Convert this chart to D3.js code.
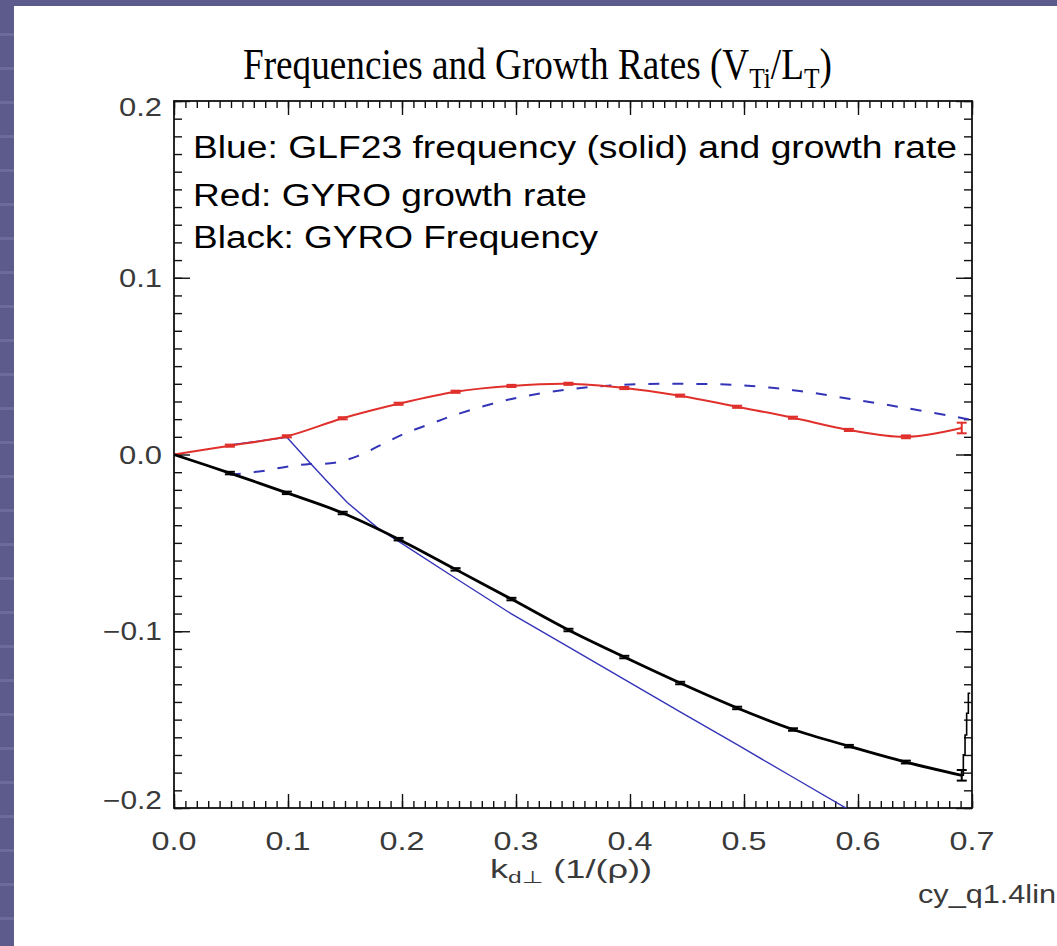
<!DOCTYPE html>
<html>
<head>
<meta charset="utf-8">
<script src="https://cdn.jsdelivr.net/npm/d3@7"></script>
<style>
  html, body { margin: 0; padding: 0; background: #fff; }
  svg { display: block; }
</style>
</head>
<body>
<script>
// ---- data -------------------------------------------------------------
// wavenumber grid of the GYRO runs
const gyroK = [0, 0.049, 0.099, 0.148, 0.197, 0.247, 0.296, 0.346, 0.395, 0.444, 0.494, 0.543, 0.592, 0.642, 0.691];
// GYRO growth rate (red) and its error bars
const gyroGrowth = [0, 0.0050, 0.0103, 0.0205, 0.0287, 0.0355, 0.0388, 0.0400, 0.0376, 0.0333, 0.0270, 0.0208, 0.0139, 0.0100, 0.0150];
const gyroGrowthErr = [0, 0.0006, 0.0006, 0.0006, 0.0006, 0.0006, 0.0006, 0.0006, 0.0006, 0.0006, 0.0006, 0.0006, 0.0006, 0.0008, 0.0030];
// GYRO frequency (black) and its error bars
const gyroFreq = [0, -0.0105, -0.0217, -0.0331, -0.0479, -0.0650, -0.0818, -0.0993, -0.1146, -0.1293, -0.1434, -0.1556, -0.1650, -0.1740, -0.1815];
const gyroFreqErr = [0, 0.0007, 0.0007, 0.0007, 0.0007, 0.0007, 0.0007, 0.0007, 0.0007, 0.0007, 0.0007, 0.0007, 0.0007, 0.0008, 0.0030];
// staircase at the right end of the GYRO frequency trace
const gyroTailK = [0.691, 0.6924, 0.6939, 0.6953, 0.6968, 0.6985];
const gyroTailV = [-0.1815, -0.1699, -0.1587, -0.1464, -0.1351, -0.1351];
// GLF23 frequency (blue solid)
const glfFreqK = [0.049, 0.099, 0.119, 0.134, 0.152, 0.178, 0.197, 0.247, 0.296, 0.346, 0.395, 0.444, 0.494, 0.543, 0.592, 0.642];
const glfFreqV = [0.0054, 0.0097, -0.0045, -0.0150, -0.0272, -0.0412, -0.0492, -0.0700, -0.0902, -0.1088, -0.1272, -0.1456, -0.1642, -0.1826, -0.2010, -0.2195];
// GLF23 growth rate (blue dashed)
const glfGrowthK = [0.049, 0.078, 0.099, 0.119, 0.141, 0.161, 0.183, 0.204, 0.225, 0.247, 0.296, 0.346, 0.395, 0.444, 0.494, 0.543, 0.592, 0.642, 0.691, 0.700];
const glfGrowthV = [-0.0115, -0.0093, -0.0069, -0.0054, -0.0047, -0.0009, 0.0059, 0.0123, 0.0173, 0.0225, 0.0314, 0.0368, 0.0395, 0.0400, 0.0393, 0.0364, 0.0316, 0.0263, 0.0207, 0.0195];
// axis ticks and labels
const xMajor = [0, 0.1, 0.2, 0.3, 0.4, 0.5, 0.6, 0.7];
const xLabels = ["0.0", "0.1", "0.2", "0.3", "0.4", "0.5", "0.6", "0.7"];
const yMajor = [-0.2, -0.1, 0, 0.1, 0.2];
const yLabels = ["\u22120.2", "\u22120.1", "0.0", "0.1", "0.2"];
const legendLines = [
  "Blue: GLF23 frequency (solid) and growth rate",
  "Red: GYRO growth rate",
  "Black: GYRO Frequency"
];

// ---- page ---------------------------------------------------------------
const W = 1057, H = 946;
const svg = d3.select("body").append("svg").attr("width", W).attr("height", H);

// slide backdrop: blue band on the left and top
svg.append("rect").attr("width", W).attr("height", H).attr("fill", "#5c5b8c");
const bands = svg.append("g");
for (let yy = 33; yy < H; yy += 34) {
  bands.append("rect").attr("x", 0).attr("y", yy).attr("width", 14).attr("height", 3)
    .attr("fill", "#8584ad").attr("opacity", 0.4);
}
svg.append("rect").attr("x", 14).attr("y", 6).attr("width", W - 14).attr("height", H - 6).attr("fill", "#fff");

const plotL = 174, plotR = 972, plotT = 101, plotB = 808;
const x = d3.scaleLinear().domain([0, 0.7]).range([plotL, plotR]);
const y = d3.scaleLinear().domain([-0.2, 0.2]).range([plotB, plotT]);

// ---- title (condensed horizontally to its box) --------------------------------
const titleBox = { x: 243, y: 79, width: 589 };
const titleG = svg.append("g");
const title = titleG.append("text")
  .attr("x", 0).attr("y", 0)
  .attr("font-family", "'Liberation Serif', 'Times New Roman', serif")
  .attr("font-size", 44).attr("fill", "#000");
title.append("tspan").text("Frequencies and Growth Rates (V");
title.append("tspan").attr("font-size", 30).attr("dy", 9).text("Ti");
title.append("tspan").attr("dy", -9).text("/L");
title.append("tspan").attr("font-size", 30).attr("dy", 9).text("T");
title.append("tspan").attr("dy", -9).text(")");
const titleNatural = title.node().getComputedTextLength();
titleG.attr("transform", `translate(${titleBox.x},${titleBox.y}) scale(${titleBox.width / titleNatural},1)`);

// ---- axes -----------------------------------------------------------------
const axes = svg.append("g").attr("stroke-width", 1.4);
const minorX = d3.range(0, 0.7001, 0.01);
const minorY = d3.range(-0.2, 0.2001, 0.01);

function drawAxis(gen, tr) {
  const g = axes.append("g").attr("transform", tr).call(gen);
  g.select(".domain").remove();
  g.selectAll("text").remove();
  g.selectAll("line").attr("stroke", "#111");
}
drawAxis(d3.axisBottom(x).tickValues(minorX).tickSize(-7), `translate(0,${plotB})`);
drawAxis(d3.axisBottom(x).tickValues(xMajor).tickSize(-14), `translate(0,${plotB})`);
drawAxis(d3.axisTop(x).tickValues(minorX).tickSize(-7), `translate(0,${plotT})`);
drawAxis(d3.axisTop(x).tickValues(xMajor).tickSize(-14), `translate(0,${plotT})`);
drawAxis(d3.axisLeft(y).tickValues(minorY).tickSize(-8), `translate(${plotL},0)`);
drawAxis(d3.axisLeft(y).tickValues(yMajor).tickSize(-16), `translate(${plotL},0)`);
drawAxis(d3.axisRight(y).tickValues(minorY).tickSize(-8), `translate(${plotR},0)`);
drawAxis(d3.axisRight(y).tickValues(yMajor).tickSize(-16), `translate(${plotR},0)`);

svg.append("rect").attr("x", plotL).attr("y", plotT)
  .attr("width", plotR - plotL).attr("height", plotB - plotT)
  .attr("fill", "none").attr("stroke", "#111").attr("stroke-width", 1.8);

const tickFont = "'Liberation Sans', Arial, sans-serif";
svg.append("g").selectAll("text").data(xMajor).join("text")
  .attr("x", d => x(d)).attr("y", 850)
  .attr("text-anchor", "middle")
  .attr("font-family", tickFont).attr("font-size", 25).attr("fill", "#3a3a3a")
  .attr("textLength", 45).attr("lengthAdjust", "spacingAndGlyphs")
  .text((d, i) => xLabels[i]);

// end labels are kept inside the frame
svg.append("g").selectAll("text").data(yMajor).join("text")
  .attr("x", 162).attr("y", d => Math.min(Math.max(y(d), plotT + 6), plotB - 8) + 9)
  .attr("text-anchor", "end")
  .attr("font-family", tickFont).attr("font-size", 25).attr("fill", "#3a3a3a")
  .attr("textLength", (d, i) => yLabels[i].length > 3 ? 59 : 43)
  .attr("lengthAdjust", "spacingAndGlyphs")
  .text((d, i) => yLabels[i]);

const xt = svg.append("text")
  .attr("x", 490).attr("y", 878)
  .attr("font-family", tickFont).attr("font-size", 25).attr("fill", "#3a3a3a")
  .attr("textLength", 162).attr("lengthAdjust", "spacingAndGlyphs");
xt.append("tspan").text("k");
xt.append("tspan").attr("font-size", 17).attr("dy", 5).text("d\u22a5");
xt.append("tspan").attr("dy", -5).text(" (1/(\u03c1))");

svg.append("text")
  .attr("x", 918).attr("y", 903)
  .attr("font-family", tickFont).attr("font-size", 25).attr("fill", "#3a3a3a")
  .attr("textLength", 138).attr("lengthAdjust", "spacingAndGlyphs")
  .text("cy_q1.4lin");

// ---- curves ---------------------------------------------------------------
svg.append("clipPath").attr("id", "plot-clip")
  .append("rect").attr("x", plotL).attr("y", plotT)
  .attr("width", plotR - plotL).attr("height", plotB - plotT);
const plot = svg.append("g").attr("clip-path", "url(#plot-clip)");

const smooth = d3.line().x(d => x(d[0])).y(d => y(d[1])).curve(d3.curveCatmullRom.alpha(0.5));
const straight = d3.line().x(d => x(d[0])).y(d => y(d[1]));
const stairs = d3.line().x(d => x(d[0])).y(d => y(d[1])).curve(d3.curveStepAfter);

const zip = (a, b) => a.map((v, i) => [v, b[i]]);
const BLUE = "#3434b8", RED = "#e0302c";

plot.append("path").datum(zip(glfGrowthK, glfGrowthV))
  .attr("d", smooth).attr("fill", "none").attr("stroke", BLUE)
  .attr("stroke-width", 2).attr("stroke-dasharray", "11,13");

plot.append("path").datum(zip(glfFreqK, glfFreqV))
  .attr("d", straight).attr("fill", "none").attr("stroke", BLUE)
  .attr("stroke-width", 1.4);

plot.append("path").datum(zip(gyroK, gyroGrowth))
  .attr("d", smooth).attr("fill", "none").attr("stroke", RED)
  .attr("stroke-width", 2);

plot.append("path").datum(zip(gyroK, gyroFreq))
  .attr("d", smooth).attr("fill", "none").attr("stroke", "#000")
  .attr("stroke-width", 2.8);

plot.append("path").datum(zip(gyroTailK, gyroTailV))
  .attr("d", stairs).attr("fill", "none").attr("stroke", "#000")
  .attr("stroke-width", 1.6);

// error bars on the GYRO points
function errorBars(vals, errs, color) {
  const g = plot.append("g").attr("stroke", color).attr("stroke-width", 2);
  gyroK.forEach((k, i) => {
    if (i === 0) return;
    const cx = x(k), lo = y(vals[i] - errs[i]), hi = y(vals[i] + errs[i]);
    g.append("line").attr("x1", cx).attr("x2", cx).attr("y1", lo).attr("y2", hi);
    g.append("line").attr("x1", cx - 5).attr("x2", cx + 5).attr("y1", lo).attr("y2", lo);
    g.append("line").attr("x1", cx - 5).attr("x2", cx + 5).attr("y1", hi).attr("y2", hi);
  });
}
errorBars(gyroGrowth, gyroGrowthErr, RED);
errorBars(gyroFreq, gyroFreqErr, "#000");

// ---- legend text ------------------------------------------------------------
const legendY = [158, 206, 248];
const legendW = [764, 394, 405];
svg.append("g").selectAll("text").data(legendLines).join("text")
  .attr("x", 193).attr("y", (d, i) => legendY[i])
  .attr("font-family", "'Liberation Sans', Arial, sans-serif")
  .attr("font-size", 31).attr("fill", "#000")
  .attr("textLength", (d, i) => legendW[i]).attr("lengthAdjust", "spacingAndGlyphs")
  .text(d => d);
</script>
</body>
</html>
